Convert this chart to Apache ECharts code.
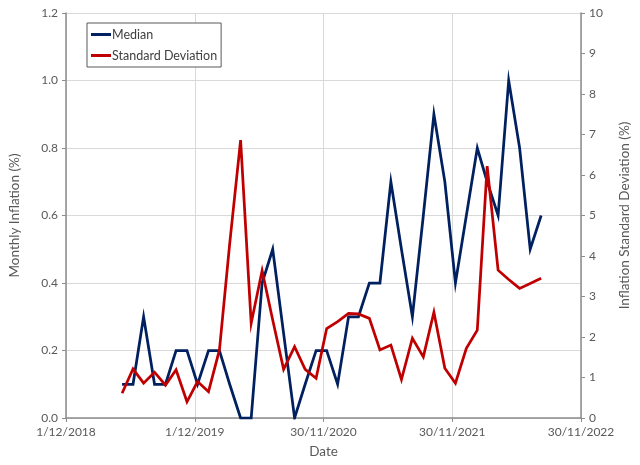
<!DOCTYPE html>
<html>
<head>
<meta charset="utf-8">
<script src="https://cdn.jsdelivr.net/npm/echarts@6/dist/echarts.min.js"></script>
<style>
html,body{margin:0;padding:0;background:#fff;}
#chart{width:640px;height:465px;}
</style>
</head>
<body>
<div id="chart"></div>
<script>
// Observation dates (monthly)
const dates = [
  "2019-05-09","2019-06-09","2019-07-09","2019-08-09","2019-09-09","2019-10-09","2019-11-09","2019-12-09",
  "2020-01-09","2020-02-09","2020-03-09","2020-04-09","2020-05-09","2020-06-09","2020-07-09","2020-08-09",
  "2020-09-09","2020-10-09","2020-11-09","2020-12-09","2021-01-09","2021-02-09","2021-03-09","2021-04-09",
  "2021-05-09","2021-06-09","2021-07-09","2021-08-09","2021-09-09","2021-10-09","2021-11-09","2021-12-09",
  "2022-01-09","2022-02-09","2022-03-09","2022-04-09","2022-05-09","2022-06-09","2022-07-09","2022-08-09"
];
// Median monthly inflation (%) - left axis
const median = [
  0.1,0.1,0.3,0.1,0.1,0.2,0.2,0.1,
  0.2,0.2,0.1,0.0,0.0,0.4,0.5,0.25,
  0.0,0.1,0.2,0.2,0.1,0.3,0.3,0.4,
  0.4,0.7,0.5,0.3,0.6,0.9,0.7,0.4,
  0.6,0.8,0.7,0.6,1.0,0.8,0.5,0.6
];
// Inflation standard deviation (%) - right axis
const stdDev = [
  0.61,1.21,0.86,1.13,0.81,1.19,0.40,0.90,
  0.65,1.68,4.30,6.86,2.34,3.64,2.42,1.20,
  1.76,1.20,0.98,2.21,2.38,2.58,2.57,2.46,
  1.68,1.80,0.95,1.97,1.51,2.61,1.23,0.86,
  1.72,2.17,6.22,3.65,3.42,3.20,3.32,3.45
];
const axisStart = "2018-12-01";
const axisEnd = "2022-11-30";
const tickStepDays = 365;
const leftTicks = [0, 1.2, 0.2];
const rightTicks = [0, 10, 1];

const DAY = 86400000;
const t0 = Date.parse(axisStart + "T00:00:00Z");
const dayOf = s => Math.round((Date.parse(s + "T00:00:00Z") - t0) / DAY);
const fmtDate = v => {
  const d = new Date(t0 + v * DAY);
  return d.getUTCDate() + "/" + (d.getUTCMonth() + 1) + "/" + d.getUTCFullYear();
};

const FONT = "Lato";
const TXT = "#595959";
const AXIS = "#8c8c8c";
const GRID = "#d9d9d9";
const LEG_ICON = 'path://M0,0 L20,0 L20,3 L0,3 Z';

const chart = echarts.init(document.getElementById('chart'), null, {renderer: 'canvas'});
chart.setOption({
  animation: false,
  backgroundColor: '#ffffff',
  textStyle: {fontFamily: FONT},
  grid: {left: 64, right: 54, top: 13, bottom: 47, containLabel: false},
  legend: {
    orient: 'vertical',
    left: 87, top: 23,
    padding: [5, 4, 5, 4],
    itemGap: 8,
    itemWidth: 20, itemHeight: 3,
    backgroundColor: '#ffffff',
    borderColor: '#595959', borderWidth: 1,
    textStyle: {fontFamily: FONT, fontSize: 12.5, color: '#404040', padding: [0, 0, 0, -4]},
    data: [
      {name: 'Median', icon: LEG_ICON},
      {name: 'Standard Deviation', icon: LEG_ICON}
    ]
  },
  xAxis: {
    type: 'value',
    min: 0, max: dayOf(axisEnd), interval: tickStepDays,
    name: 'Date', nameLocation: 'middle', nameGap: 27,
    nameTextStyle: {fontFamily: FONT, fontSize: 13.5, color: TXT},
    axisLine: {show: true, onZero: false, lineStyle: {color: AXIS, width: 1.5}},
    axisTick: {show: true, length: 4, lineStyle: {color: AXIS}},
    axisLabel: {formatter: fmtDate, fontFamily: FONT, fontSize: 12, color: TXT, margin: 8},
    splitLine: {show: true, lineStyle: {color: GRID, width: 1}}
  },
  yAxis: [{
    type: 'value', position: 'left',
    min: leftTicks[0], max: leftTicks[1], interval: leftTicks[2],
    name: 'Monthly Inflation (%)', nameLocation: 'middle', nameGap: 44, nameRotate: 90,
    nameTextStyle: {fontFamily: FONT, fontSize: 13.5, color: TXT},
    axisLine: {show: true, lineStyle: {color: AXIS, width: 1.5}},
    axisTick: {show: true, length: 4, lineStyle: {color: AXIS}},
    axisLabel: {formatter: v => v.toFixed(1), fontFamily: FONT, fontSize: 12, color: TXT, margin: 8},
    splitLine: {show: true, lineStyle: {color: GRID, width: 1}}
  }, {
    type: 'value', position: 'right',
    min: rightTicks[0], max: rightTicks[1], interval: rightTicks[2],
    name: 'Inflation Standard Deviation (%)', nameLocation: 'middle', nameGap: 37, nameRotate: 90,
    nameTextStyle: {fontFamily: FONT, fontSize: 13.5, color: TXT},
    axisLine: {show: true, lineStyle: {color: AXIS, width: 1.5}},
    axisTick: {show: true, length: 4, lineStyle: {color: AXIS}},
    axisLabel: {fontFamily: FONT, fontSize: 12, color: TXT, margin: 8},
    splitLine: {show: false}
  }],
  series: [{
    name: 'Median', type: 'line', yAxisIndex: 0,
    data: dates.map((d, i) => [dayOf(d), median[i]]),
    symbol: 'none', showSymbol: false,
    lineStyle: {color: '#002060', width: 2.75, join: 'miter'},
    itemStyle: {color: '#002060'},
    z: 3
  }, {
    name: 'Standard Deviation', type: 'line', yAxisIndex: 1,
    data: dates.map((d, i) => [dayOf(d), stdDev[i]]),
    symbol: 'none', showSymbol: false,
    lineStyle: {color: '#C00000', width: 2.75, join: 'miter'},
    itemStyle: {color: '#C00000'},
    z: 4
  }]
});
</script>
</body>
</html>
